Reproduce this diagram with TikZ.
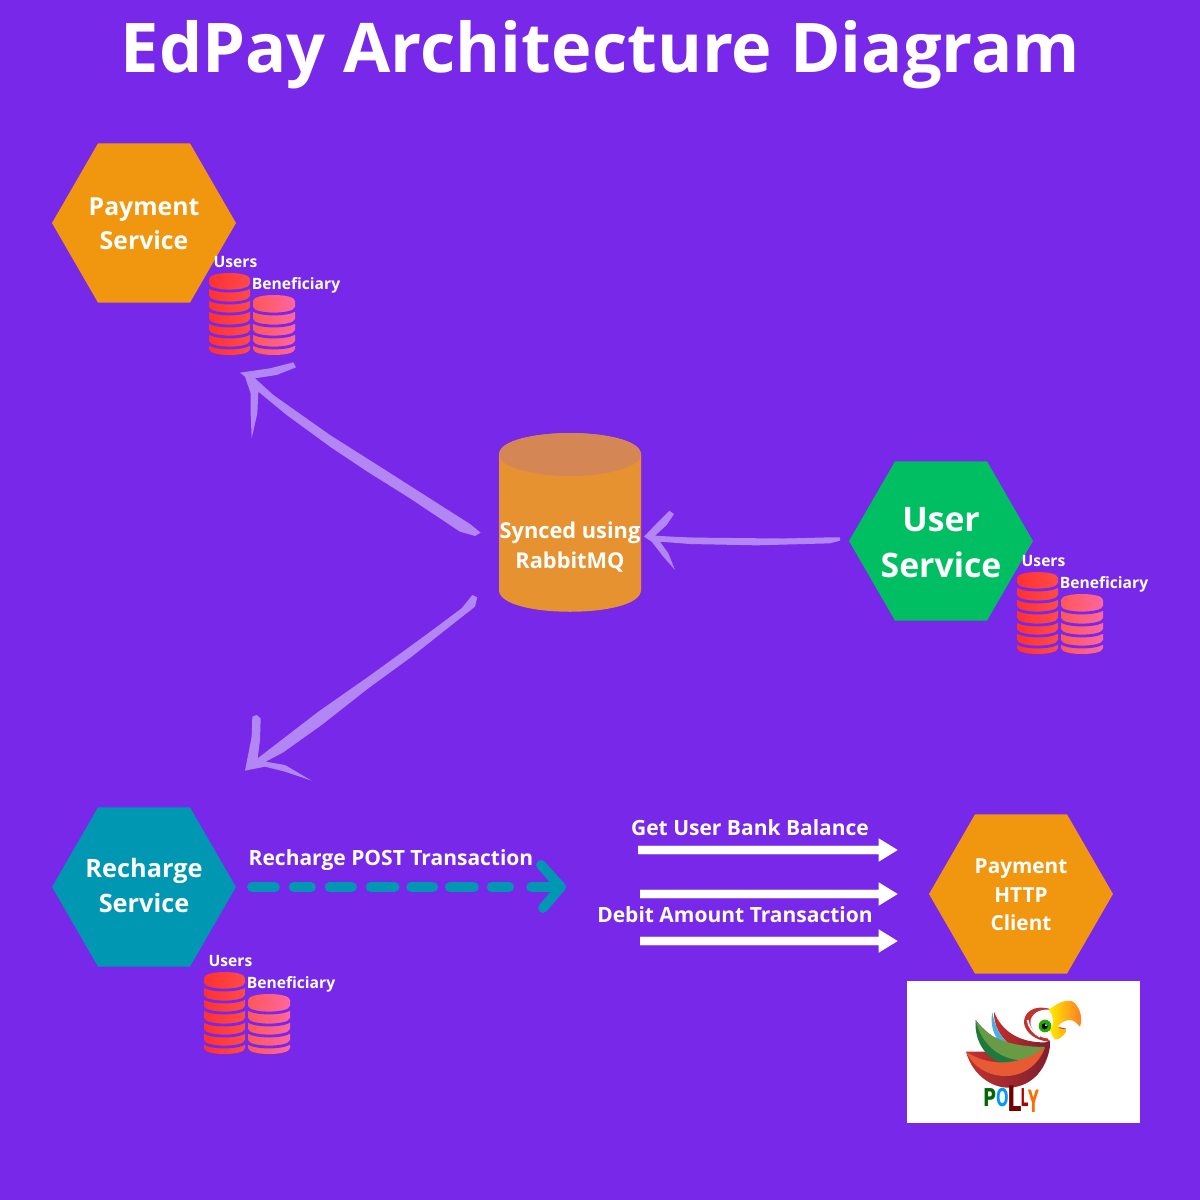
\documentclass[tikz,border=0pt]{standalone}
\usepackage{fontspec}
\usepackage{graphicx}
\setmainfont{Open Sans}
\newfontfamily\blockfont{DejaVu Sans}
\usetikzlibrary{arrows.meta,shapes.geometric}
\definecolor{bgpurple}{HTML}{7828E9}
\definecolor{sketchlilac}{HTML}{B286F3}
\definecolor{hexorange}{HTML}{F0960F}
\definecolor{hexgreen}{HTML}{00BF63}
\definecolor{hexteal}{HTML}{0097B2}
\definecolor{cylbody}{HTML}{E69230}
\definecolor{cyltop}{HTML}{D48755}
\definecolor{dbreda}{HTML}{FF3131}
\definecolor{dbredb}{HTML}{FF4A4A}
\definecolor{dbpinka}{HTML}{FF5757}
\definecolor{dbpinkb}{HTML}{FF66A0}
\tikzset{
  hexnode/.style={regular polygon,regular polygon sides=6,minimum size=3.68cm,inner sep=0pt},
  whitetext/.style={text=white,font=\bfseries,align=center,inner sep=0pt},
  smalllabel/.style={whitetext,font=\bfseries\fontsize{8.9pt}{11pt}\selectfont},
  flowlabel/.style={whitetext,font=\bfseries\fontsize{11.95pt}{15pt}\selectfont},
  sketchfill/.style={fill=sketchlilac,draw=none},
  sketchline/.style={draw=sketchlilac,line width=1pt},
  whitearrow/.style={draw=white,line width=4.4pt,-{Triangle[length=11pt,width=12.5pt]}},
  whiteglow/.style={draw=white,opacity=.25,line width=6pt},
  tealdash/.style={draw=hexteal,line width=5.6pt,line cap=round,
    dash pattern=on 13.1pt off 10.6pt on 9.9pt off 10.6pt on 12.7pt off 10.6pt on 13.7pt off 9.4pt on 12.5pt off 9.5pt on 13.7pt off 10.1pt on 10pt off 12.5pt on 40pt},
  tealbarb/.style={draw=hexteal,line width=5.6pt,line cap=round,line join=round},
  gapline/.style={draw=bgpurple,line width=1.6pt},
  blockletter/.style={inner sep=0pt,font=\blockfont\bfseries\fontsize{14pt}{14pt}\selectfont},
}
\newcommand{\dbgap}[3]{\draw[gapline] (#1-1,#3) .. controls (#1,#3+8) and (#2,#3+8) .. (#2+1,#3);}
\newcommand{\dbgroup}[3]{%
  \begin{scope}[shift={(#1,#2)}]
    \node[smalllabel] (#3users) at (235.5,262) {Users};
    \node[smalllabel] (#3benef) at (296,285) {Beneficiary};
    \path[left color=dbreda,right color=dbredb]
      (209,279) .. controls (209,271) and (250,271) .. (250,279)
      -- (250,349) .. controls (250,357) and (209,357) .. (209,349) -- cycle;
    \foreach \g in {285,297,308,320,331,342} {\dbgap{209}{250}{\g}}
    \path[left color=dbpinka,right color=dbpinkb]
      (253,301) .. controls (253,293) and (295,293) .. (295,301)
      -- (295,349) .. controls (295,357) and (253,357) .. (253,349) -- cycle;
    \foreach \g in {308,320,331,342} {\dbgap{253}{295}{\g}}
  \end{scope}}
\begin{document}
\begin{tikzpicture}[x=0.02cm,y=-0.02cm]
\useasboundingbox (0,0) rectangle (1200,1200);
\fill[bgpurple] (0,0) rectangle (1200,1200);

\node[whitetext,font=\bfseries\fontsize{39pt}{46pt}\selectfont] (title) at (600.5,55) {EdPay Architecture Diagram};

% hexagons
\node[hexnode,fill=hexorange] (payment) at (144,223) {};
\node[whitetext,font=\bfseries\fontsize{14.1pt}{19.4pt}\selectfont] (paymentlabel) at (144,224) {Payment\\Service};
\node[hexnode,fill=hexgreen] (user) at (941,541) {};
\node[whitetext,font=\bfseries\fontsize{19.2pt}{26.2pt}\selectfont] (userlabel) at (941,543) {User\\Service};
\node[hexnode,fill=hexteal] (recharge) at (144,887) {};
\node[whitetext,font=\bfseries\fontsize{14.4pt}{19.9pt}\selectfont] (rechargelabel) at (144,885.5) {Recharge\\Service};
\node[hexnode,fill=hexorange] (http) at (1021,894) {};
\node[whitetext,font=\bfseries\fontsize{11.8pt}{16.3pt}\selectfont] (httplabel) at (1021,895) {Payment\\HTTP\\Client};

\dbgroup{0}{0}{a}
\dbgroup{808}{299}{b}
\dbgroup{-5}{699}{c}

% cylinder
\fill[cylbody] (499,454.5) .. controls (499,426) and (641,426) .. (641,454.5)
  -- (641,590) .. controls (641,619) and (499,619) .. (499,590) -- cycle;
\fill[cyltop] (570,454.5) ellipse [x radius=71,y radius=21.5];
\node[minimum width=2.84cm,minimum height=3.58cm,inner sep=0pt] (mq) at (570,522.5) {};
\node[whitetext,font=\bfseries\fontsize{12.4pt}{16.6pt}\selectfont] (mqlabel) at (570,547) {Synced using\\RabbitMQ};

% hand-drawn arrows
\coordinate (a1tail) at (465,528);
\coordinate (a1mida) at (380,469);
\coordinate (a1midb) at (330,441);
\coordinate (a1midc) at (280,405);
\coordinate (a1tip) at (255,382);
\draw[sketchline] (a1tail) -- (a1mida) -- (a1midb) -- (a1midc) -- (a1tip);
\begin{scope}[shift={(230,350)},scale=1/3]
\fill[sketchfill] (30,68) -- (120,55) -- (190,37) -- (198,52) -- (140,75) -- (75,85) -- (130,135) -- (300,255) -- (450,350) -- (720,522) -- (752,548) -- (735,558) -- (690,545) -- (540,445) -- (420,370) -- (300,290) -- (170,195) -- (85,125) -- (82,190) -- (65,265) -- (62,190) -- (62,130) -- (45,80) -- cycle;
\end{scope}

\coordinate (a2tail) at (472,602);
\coordinate (a2tip) at (256,762);
\draw[sketchline] (a2tail) -- (a2tip);
\begin{scope}[shift={(235,590)},scale=1/3]
\fill[sketchfill] (30,542) -- (50,440) -- (52,380) -- (65,375) -- (77,385) -- (75,450) -- (68,505) -- (250,365) -- (400,260) -- (580,130) -- (680,55) -- (712,15) -- (727,22) -- (720,50) -- (650,105) -- (530,200) -- (400,295) -- (260,405) -- (145,487) -- (92,515) -- (150,525) -- (230,572) -- (150,545) -- (90,530) -- cycle;
\end{scope}

\coordinate (a3tail) at (838,540);
\coordinate (a3tip) at (650,538);
\draw[sketchline] (a3tail) -- (a3tip);
\begin{scope}[shift={(640,500)},scale=1/3]
\fill[sketchfill] (12,110) -- (50,70) -- (88,32) -- (102,42) -- (80,75) -- (45,107) -- (150,113) -- (350,118) -- (570,112) -- (600,112) -- (600,122) -- (570,130) -- (350,136) -- (150,132) -- (60,125) -- (85,160) -- (105,210) -- (70,170) -- (35,125) -- cycle;
\end{scope}

% recharge POST
\node[flowlabel] (rlabel) at (391,860) {Recharge POST Transaction};
\coordinate (dstart) at (252,887);
\coordinate (dend) at (561,887);
\coordinate (dbarbup) at (541,865);
\coordinate (dbarbdown) at (543,908);
\draw[tealdash] (dstart) -- (dend);
\draw[tealbarb] (dbarbup) -- (dend) -- (dbarbdown);

% white arrows
\node[flowlabel] (glabel) at (750,828) {Get User Bank Balance};
\node[flowlabel] (dlabel) at (735,915) {Debit Amount Transaction};
\coordinate (w1a) at (638,850); \coordinate (w1b) at (898,850);
\coordinate (w2a) at (640,894); \coordinate (w2b) at (898,894);
\coordinate (w3a) at (640,941); \coordinate (w3b) at (898,941);
\draw[whiteglow] (w1a) -- (880,850);
\draw[whiteglow] (w2a) -- (880,894);
\draw[whiteglow] (w3a) -- (880,941);
\draw[whitearrow] (w1a) -- (w1b);
\draw[whitearrow] (w2a) -- (w2b);
\draw[whitearrow] (w3a) -- (w3b);

% polly logo
\fill[white] (907,981) rectangle (1140,1123);
\begin{scope}[shift={(960,995)},scale=1/3]
  \definecolor{pmaroon}{HTML}{7E1F2E}
  \definecolor{pred}{HTML}{C0332F}
  \definecolor{pgreen}{HTML}{1E7A3C}
  \definecolor{plgreen}{HTML}{6B9A45}
  \definecolor{porange}{HTML}{E85A33}
  \definecolor{pblue}{HTML}{4AAEE8}
  % body
  \shade[left color=pred,right color=pmaroon]
    (18,170) .. controls (40,250) and (110,285) .. (160,277)
    .. controls (230,267) and (268,205) .. (272,135) -- (200,170) -- cycle;
  % blue feather
  \fill[pblue] (97,52) .. controls (105,100) and (125,135) .. (160,155) -- (130,155) .. controls (100,125) and (90,90) .. (97,52) -- cycle;
  % red feather
  \shade[left color=pred!90!red,right color=pmaroon]
    (102,50) .. controls (125,110) and (180,145) .. (262,142)
    -- (250,165) -- (170,165) .. controls (120,130) and (100,90) .. (102,50) -- cycle;
  % green feather
  \fill[pgreen] (47,75) .. controls (42,130) and (70,185) .. (125,205)
     -- (205,195) -- (252,158) -- (150,155) .. controls (100,130) and (70,105) .. (47,75) -- cycle;
  \fill[plgreen] (47,75) .. controls (80,125) and (140,155) .. (255,156)
     .. controls (235,180) and (215,190) .. (190,196) .. controls (120,195) and (65,150) .. (47,75) -- cycle;
  % orange wing
  \fill[porange] (18,170) .. controls (70,205) and (160,225) .. (255,158)
     .. controls (235,210) and (190,245) .. (130,243) .. controls (80,240) and (40,215) .. (18,170) -- cycle;
  % head
  \fill[pred] (270,42) .. controls (225,28) and (190,50) .. (192,85)
     .. controls (197,115) and (230,138) .. (268,140) -- (262,128) -- (240,105) -- (235,65) -- cycle;
  \fill[white] (270,44) .. controls (225,40) and (205,70) .. (213,92)
     .. controls (223,118) and (245,132) .. (272,130) -- (292,100) -- cycle;
  \draw[white,line width=1pt] (203,75) .. controls (205,95) and (220,115) .. (240,125);
  % beak
  \shade[left color=yellow!85!orange,right color=orange!75!red!85]
    (266,45) .. controls (295,20) and (330,8) .. (345,25)
    .. controls (362,45) and (368,70) .. (360,95)
    .. controls (350,85) and (340,72) .. (325,75)
    .. controls (310,78) and (300,85) .. (293,95)
    .. controls (310,98) and (320,105) .. (318,110)
    .. controls (310,125) and (295,135) .. (285,133)
    .. controls (278,125) and (272,115) .. (270,105)
    .. controls (285,85) and (280,60) .. (266,45) -- cycle;
  \draw[pred,line width=.5pt] (297,98) -- (318,102);
  % eye
  \fill[green!60!black!85!yellow] (255,93) circle[radius=19];
  \fill[black] (254,94) circle[radius=9];
  \fill[white] (258,90) circle[radius=3];
\end{scope}
% POLLY wordmark
\node[blockletter,text=green!40!black] (lp) at (989.5,1098) {\scalebox{.72}[1]{P}};
\node[blockletter,text=blue!40!cyan] (lo) at (1002.5,1098) {\scalebox{.6}[1]{O}};
\node[blockletter,text=red!45!black,font=\blockfont\bfseries\fontsize{20pt}{20pt}\selectfont] (ll) at (1014.5,1098.5) {\scalebox{.65}[1]{L}};
\node[blockletter,text=red!70!black] (llb) at (1024.5,1098) {\scalebox{.5}[1]{L}};
\node[blockletter,text=orange!85!red,anchor=north] (ly) at (1034,1090) {\scalebox{.6}[1.25]{Y}};
\end{tikzpicture}
\end{document}
